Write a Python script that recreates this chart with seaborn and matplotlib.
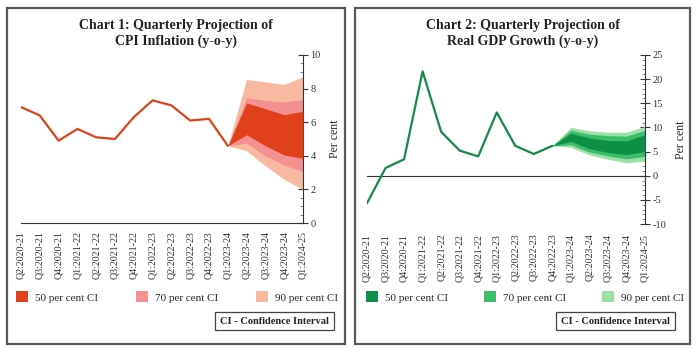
import numpy as np
import pandas as pd
import matplotlib
matplotlib.use("Agg")
import matplotlib.pyplot as plt
import seaborn as sns
from matplotlib.patches import Patch, Rectangle
from matplotlib.ticker import MultipleLocator

# ---------------- data ----------------
quarters = ["Q2:2020-21", "Q3:2020-21", "Q4:2020-21", "Q1:2021-22", "Q2:2021-22",
            "Q3:2021-22", "Q4:2021-22", "Q1:2022-23", "Q2:2022-23", "Q3:2022-23",
            "Q4:2022-23", "Q1:2023-24", "Q2:2023-24", "Q3:2023-24", "Q4:2023-24",
            "Q1:2024-25"]

# Chart 1: CPI inflation (actual up to Q1:2023-24)
cpi_actual = [6.9, 6.4, 4.9, 5.6, 5.1, 5.0, 6.3, 7.3, 7.0, 6.1, 6.2, 4.6]
cpi_fan_quarters = ["Q1:2023-24", "Q2:2023-24", "Q3:2023-24", "Q4:2023-24", "Q1:2024-25"]
cpi_90_low = [4.6, 4.3, 3.4, 2.6, 2.0]
cpi_90_high = [4.6, 8.55, 8.4, 8.25, 8.7]
cpi_70_low = [4.6, 4.75, 4.0, 3.45, 3.05]
cpi_70_high = [4.6, 7.45, 7.3, 7.2, 7.35]
cpi_50_low = [4.6, 5.25, 4.6, 4.05, 3.85]
cpi_50_high = [4.6, 7.15, 6.8, 6.45, 6.65]

# Chart 2: Real GDP growth (actual up to Q4:2022-23)
gdp_actual = [-5.7, 1.6, 3.4, 21.6, 9.1, 5.2, 4.0, 13.1, 6.2, 4.5, 6.2]
gdp_fan_quarters = ["Q4:2022-23", "Q1:2023-24", "Q2:2023-24", "Q3:2023-24",
                    "Q4:2023-24", "Q1:2024-25"]
gdp_90_low = [6.2, 5.9, 4.3, 3.4, 2.7, 3.0]
gdp_90_high = [6.2, 10.0, 9.3, 9.0, 9.0, 10.2]
gdp_70_low = [6.2, 6.4, 4.9, 4.1, 3.5, 4.0]
gdp_70_high = [6.2, 9.4, 8.6, 8.3, 8.2, 9.4]
gdp_50_low = [6.2, 7.1, 5.6, 4.8, 4.4, 5.0]
gdp_50_high = [6.2, 8.8, 7.8, 7.3, 7.2, 8.5]

legend_labels = ["50 per cent CI", "70 per cent CI", "90 per cent CI"]
titles = ["Chart 1: Quarterly Projection of\nCPI Inflation (y-o-y)",
          "Chart 2: Quarterly Projection of\nReal GDP Growth (y-o-y)"]

# ---------------- style ----------------
sns.set_theme(style="white")
plt.rcParams["font.family"] = ["Liberation Serif", "DejaVu Serif"]
plt.rcParams["axes.unicode_minus"] = False

red_line = "#d9441c"
red_cols = ["#e0401a", "#f49090", "#f9b9a0"]
green_line = "#148a4a"
green_cols = ["#0e8f48", "#3cbd6a", "#9ae0a8"]

W, H = 696, 353
fig = plt.figure(figsize=(W / 100, H / 100), dpi=100)


def fx(px):
    return px / W


def fy(py):
    return 1 - py / H


# panel borders
for x0, x1 in [(7, 345), (355, 690)]:
    fig.patches.append(Rectangle((fx(x0), fy(344)), fx(x1) - fx(x0), fy(8) - fy(344),
                                 transform=fig.transFigure, fill=False,
                                 edgecolor="#5a5a5a", linewidth=1.6, zorder=0))

idx = {q: i for i, q in enumerate(quarters)}


def draw(ax, actual, fan_q, bands, line_col, cols, ylim, major, minor):
    df = pd.DataFrame({"x": [idx[q] for q in quarters[:len(actual)]], "y": actual})
    fx_ = [idx[q] for q in fan_q]
    lo90, hi90, lo70, hi70, lo50, hi50 = bands
    ax.fill_between(fx_, lo90, hi90, color=cols[2], linewidth=0, zorder=1)
    ax.fill_between(fx_, lo70, hi70, color=cols[1], linewidth=0, zorder=2)
    ax.fill_between(fx_, lo50, hi50, color=cols[0], linewidth=0, zorder=3)
    sns.lineplot(data=df, x="x", y="y", ax=ax, color=line_col, linewidth=1.6, zorder=4)
    ax.set_xlim(0, len(quarters) - 1)
    ax.set_ylim(*ylim)
    ax.set_xlabel("")
    ax.yaxis.tick_right()
    ax.yaxis.set_label_position("right")
    ax.set_ylabel("Per cent", fontsize=8.5, labelpad=6)
    ax.yaxis.set_major_locator(MultipleLocator(major))
    ax.yaxis.set_minor_locator(MultipleLocator(minor))
    for s in ["top", "left"]:
        ax.spines[s].set_visible(False)
    for s in ["right", "bottom"]:
        ax.spines[s].set_color("#333333")
        ax.spines[s].set_linewidth(0.8)
    ax.tick_params(axis="y", which="major", direction="inout", length=7, width=0.8,
                   labelsize=7.5, colors="#333333", pad=2, left=False, right=True)
    ax.tick_params(axis="y", which="minor", direction="in", length=2.5, width=0.5,
                   colors="#555555", left=False, right=True)
    ax.set_facecolor("white")
    ax.grid(False)


# Chart 1
ax1 = fig.add_axes([fx(21), fy(223), fx(303) - fx(21), fy(55) - fy(223)])
draw(ax1, cpi_actual, cpi_fan_quarters,
     (cpi_90_low, cpi_90_high, cpi_70_low, cpi_70_high, cpi_50_low, cpi_50_high),
     red_line, red_cols, (0, 10), 2, 0.5)
ax1.set_xticks(range(len(quarters)))
ax1.set_xticklabels(quarters, rotation=90, fontsize=7.2, color="#333333")
ax1.tick_params(axis="x", direction="in", length=4, width=0.8, colors="#333333",
                pad=6, labelcolor="#333333")

# Chart 2
ax2 = fig.add_axes([fx(367), fy(224), fx(645) - fx(367), fy(55) - fy(224)])
draw(ax2, gdp_actual, gdp_fan_quarters,
     (gdp_90_low, gdp_90_high, gdp_70_low, gdp_70_high, gdp_50_low, gdp_50_high),
     green_line, green_cols, (-10, 25), 5, 1)
ax2.spines["bottom"].set_position(("data", 0))
ax2.set_xticks(range(len(quarters)))
ax2.tick_params(axis="x", direction="inout", length=5, width=0.8, colors="#333333",
                labelbottom=False)
sec = ax2.secondary_xaxis("bottom")
sec.set_xticks(range(len(quarters)))
sec.set_xticklabels(quarters, rotation=90, fontsize=7.2, color="#333333")
sec.tick_params(axis="x", length=0, pad=7)
sec.spines["bottom"].set_visible(False)

# Titles
for cx, t in [(176, titles[0]), (523, titles[1])]:
    fig.text(fx(cx), fy(33.5), t, ha="center", va="center", fontsize=10,
             fontweight="bold", color="#222222", linespacing=1.15)

# Legends
for ax, cols, x0, x1 in [(ax1, red_cols, 16, 338), (ax2, green_cols, 366, 684)]:
    handles = [Patch(facecolor=c, edgecolor="none") for c in cols]
    ax.legend(handles, legend_labels, ncol=3, mode="expand", frameon=False,
              bbox_to_anchor=(fx(x0), fy(306), fx(x1) - fx(x0), fy(288) - fy(306)),
              bbox_transform=fig.transFigure, loc="center", fontsize=8,
              handlelength=1.1, handleheight=1.1, handletextpad=0.6,
              borderaxespad=0, borderpad=0)

# CI boxes
for xr in [329, 670]:
    fig.text(fx(xr), fy(321), "CI - Confidence Interval", ha="right", va="center",
             fontsize=7.5, fontweight="bold", color="#222222",
             bbox=dict(boxstyle="square,pad=0.45", facecolor="white",
                       edgecolor="#444444", linewidth=0.9))

fig.savefig("out.png", dpi=100, facecolor="white")
